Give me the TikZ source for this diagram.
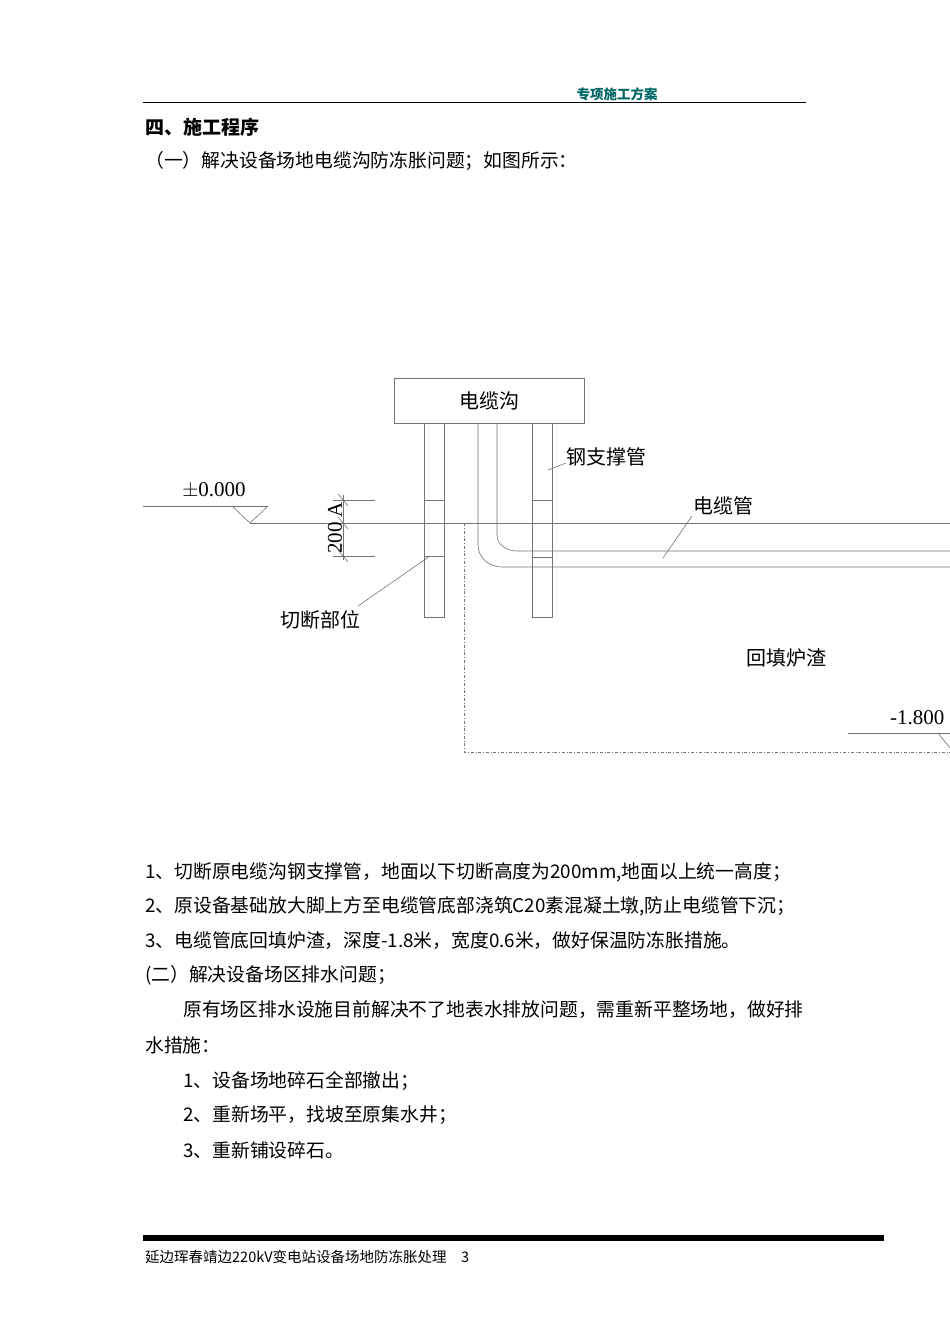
\documentclass[tikz,border=0pt]{standalone}
\usepackage{fontspec}
\setmainfont{Liberation Serif}
\newfontfamily\cjk{Noto Sans CJK SC}
\begin{document}
\begin{tikzpicture}[x=1pt,y=-1pt,
  body/.style={anchor=west,inner sep=0pt,font=\cjk\fontsize{18.8}{20}\selectfont},
  lbl/.style={inner sep=0pt,font=\cjk\fontsize{20}{22}\selectfont},
  num/.style={inner sep=0pt,font=\fontsize{21}{22}\selectfont},
  thin/.style={draw=black!55,line width=0.6pt},
  pipe/.style={draw=black!55,line width=0.6pt}]
\useasboundingbox[fill=white] (0,0) rectangle (950,1344);
\clip (0,0) rectangle (950,1344);
% header
\node[inner sep=0pt,text=teal!80!black,font=\cjk\bfseries\fontsize{13.5}{15}\selectfont] (hdr) at (617,94) {专项施工方案};
\draw[line width=1pt] (143,102) -- (806,102);
\node[body,font=\cjk\bfseries\fontsize{19}{20}\selectfont] (t0) at (145,127) {四、施工程序};
\node[body] (t1) at (145,161) {（一）解决设备场地电缆沟防冻胀问题；如图所示：};
% diagram
\node[thin,draw,minimum width=190pt,minimum height=45pt,lbl] (box) at (489,400.5) {电缆沟};
\draw[pipe] (424,423) rectangle (444,617);
\draw[pipe] (424,500) -- (444,500) (424,556) -- (444,556);
\draw[pipe] (532,423) rectangle (552,617);
\draw[pipe] (532,500) -- (552,500) (532,557) -- (552,557);
% cable pipe
\draw[pipe] (497,423) -- (497,535) to[out=-90,in=180] (517,551) -- (950,551);
\draw[pipe] (478,423) -- (478,545) to[out=-90,in=180] (502,567) -- (950,567);
% ground
\draw[thin] (143,506) -- (268,506);
\draw[thin] (232,506) -- (250,523) -- (268,506);
\draw[thin] (250,523) -- (950,523);
\node[num] (z0) at (214,490) {$\pm$0.000};
% dimension
\draw[thin] (343,495) -- (343,560);
\draw[thin] (333,500) -- (375,500) (333,523) -- (375,523) (333,556) -- (375,556);
\draw[thin] (338,494) -- (348,506) (338,517) -- (348,529) (338,550) -- (348,562);
\node[rotate=90,num] (dim) at (335,528) {200 A};
% leaders
\coordinate (c1) at (430,556);
\node[lbl] (qd) at (320,620) {切断部位};
\draw[thin] (c1) -- (358,606);
\node[lbl] (gz) at (606,457) {钢支撑管};
\coordinate (c2) at (548,470);
\draw[thin] (c2) -- (566,463);
\node[lbl] (dl) at (723,506) {电缆管};
\coordinate (c3) at (663,558);
\draw[thin] (c3) -- (692,516);
% backfill
\draw[thin,dash dot] (464,523) -- (464,752) -- (950,752);
\node[lbl] (ht) at (786,658) {回填炉渣};
\node[anchor=west,num] (m18) at (890,718) {-1.800};
\draw[thin] (848,733) -- (950,733);
\draw[thin] (938,733) -- (950,748);
% body text
\node[body] at (145,872) {1、切断原电缆沟钢支撑管，地面以下切断高度为200mm,地面以上统一高度；};
\node[body] at (145,906) {2、原设备基础放大脚上方至电缆管底部浇筑C20素混凝土墩,防止电缆管下沉；};
\node[body] at (145,941) {3、电缆管底回填炉渣，深度-1.8米，宽度0.6米，做好保温防冻胀措施。};
\node[body] at (145,975) {(二）解决设备场区排水问题；};
\node[body] at (183,1010) {原有场区排水设施目前解决不了地表水排放问题，需重新平整场地，做好排};
\node[body] at (145,1045) {水措施：};
\node[body] at (183,1081) {1、设备场地碎石全部撤出；};
\node[body] at (183,1115) {2、重新场平，找坡至原集水井；};
\node[body] at (183,1150) {3、重新铺设碎石。};
% footer
\fill (143,1235) rectangle (884,1241);
\node[body,font=\cjk\fontsize{14.5}{16}\selectfont] at (145,1257) {延边珲春靖边220kV变电站设备场地防冻胀处理\quad 3};
\end{tikzpicture}
\end{document}
